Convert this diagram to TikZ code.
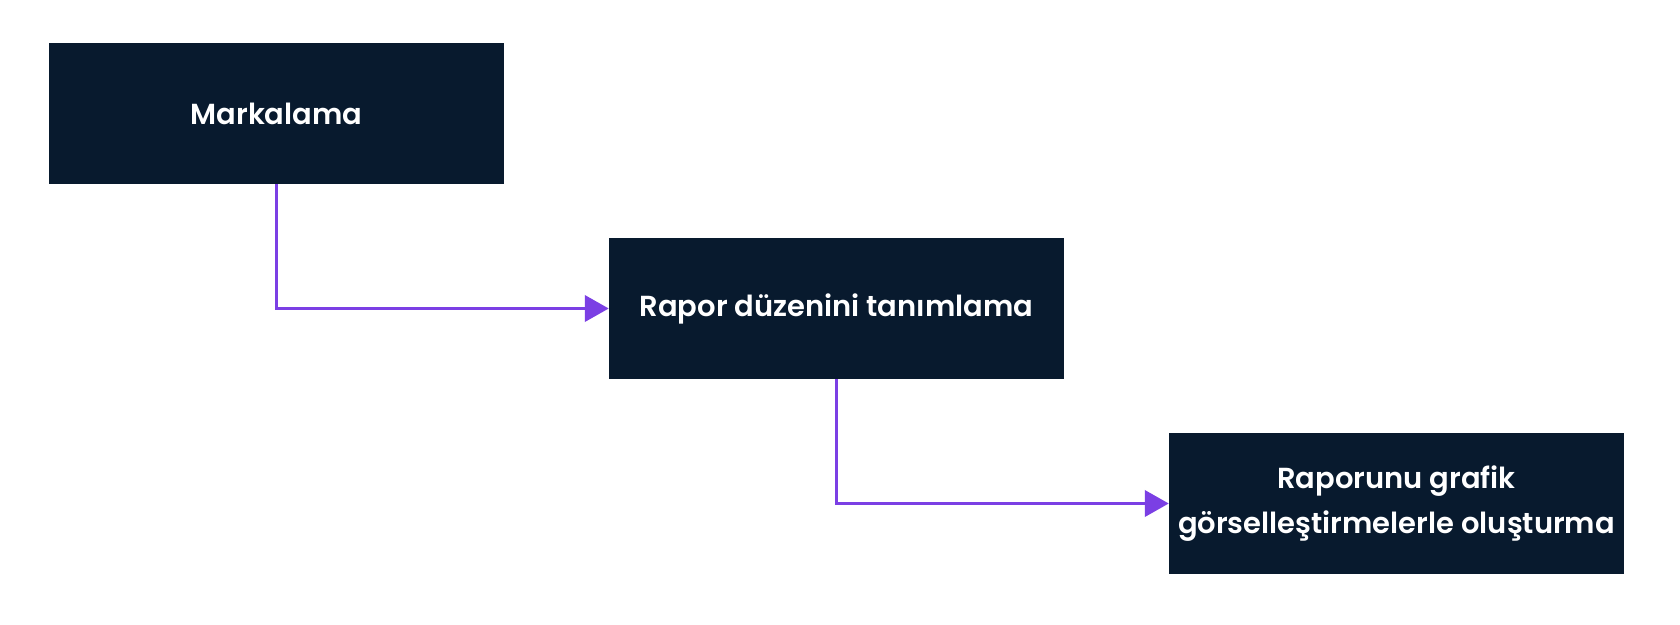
\documentclass[tikz,border=0pt]{standalone}
\usepackage{fontspec}
\setmainfont{Poppins}
\newfontfamily\boxfont{Poppins SemiBold}
\usetikzlibrary{positioning,arrows.meta}
\definecolor{boxnavy}{HTML}{081A2E}
\definecolor{flowpurple}{HTML}{7B3FE4}

\begin{document}
\begin{tikzpicture}[node distance=195pt and 560pt,on grid,
				task/.style={rectangle, fill=boxnavy, text=white, inner sep=0pt,
					minimum width=455pt, minimum height=141pt, align=center,
					font=\boxfont\fontsize{29pt}{45pt}\selectfont},
				flow/.style={draw=flowpurple, line width=3.8pt,
					-{Triangle[length=24pt,width=26pt]}}
			]
			\useasboundingbox[fill=white] (0pt,0pt) rectangle (1680pt,-624pt);
			
			\node[task] (b_1) at (276.5pt,-113.5pt) {Markalama};
			\node[task] (b_2) [below right=of b_1] {Rapor düzenini tanımlama};
			\node[task] (b_3) [below right=of b_2] {Raporunu grafik\\görselleştirmelerle oluşturma};
			
			\draw[flow] (b_1.south) |- (b_2.west);
			\draw[flow] (b_2.south) |- (b_3.west);
		\end{tikzpicture}
\end{document}
